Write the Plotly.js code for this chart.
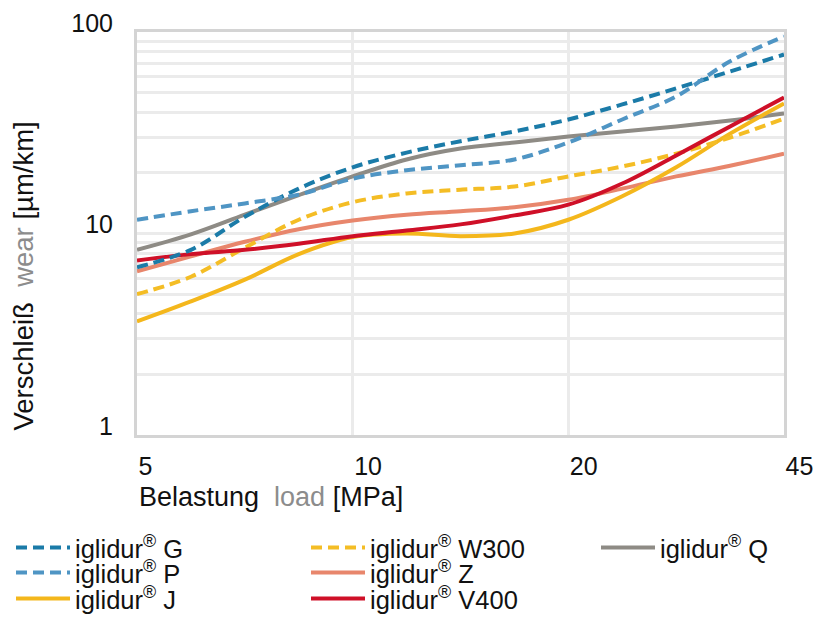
<!DOCTYPE html>
<html><head><meta charset="utf-8">
<script src="https://cdn.plot.ly/plotly-3.0.1.min.js"></script>
<style>html,body{margin:0;padding:0;background:#fff}</style>
</head><body>
<div id="chart" style="width:824px;height:624px"></div>
<script>
// x positions are the index of the load tick (5, 10, 20, 45 MPa are equally spaced in the chart)
const loadTicks = ['5', '10', '20', '45'];
const loadTickPos = [0, 1, 2, 3];
const xPos = [0, 0.25, 0.5, 0.75, 1, 1.25, 1.5, 1.75, 2, 2.25, 2.5, 2.75, 3];

// wear [µm/km]
const wearG    = [6.8, 8.3, 12.1, 16.7, 21.3, 25.2, 28.7, 32.1, 36.8, 43.7, 52.5, 63.7, 77.3];
const wearP    = [11.7, 12.9, 14.1, 15.6, 18.7, 20.6, 21.8, 23.3, 28.3, 36.8, 47.9, 71.5, 95.0];
const wearJ    = [3.66, 4.6, 5.9, 7.9, 9.6, 10.0, 9.7, 10.0, 11.7, 15.3, 21.3, 31.3, 44.2];
const wearW300 = [5.0, 6.1, 8.5, 11.7, 14.3, 15.8, 16.5, 17.1, 19.2, 21.5, 24.9, 29.9, 37.2];
const wearZ    = [6.5, 7.7, 9.1, 10.5, 11.6, 12.4, 12.9, 13.5, 14.7, 16.7, 19.2, 21.7, 24.9];
const wearV400 = [7.35, 7.9, 8.3, 8.9, 9.7, 10.35, 11.1, 12.3, 13.9, 17.7, 24.4, 34.0, 47.3];
const wearQ    = [8.3, 9.9, 12.4, 15.5, 19.2, 23.3, 26.4, 28.3, 30.3, 32.1, 34.0, 36.4, 39.4];

const wearTickVals = [1,2,3,4,5,6,7,8,9,10,20,30,40,50,60,70,80,90,100];
const wearTickText = ['1','','','','','','','','','10','','','','','','','','','100'];

const names = {
  G: 'iglidur<sup>®</sup> G', P: 'iglidur<sup>®</sup> P', J: 'iglidur<sup>®</sup> J',
  W300: 'iglidur<sup>®</sup> W300', Z: 'iglidur<sup>®</sup> Z', V400: 'iglidur<sup>®</sup> V400',
  Q: 'iglidur<sup>®</sup> Q'
};

function tr(y, name, color, dash, legend, rank) {
  return {
    type: 'scatter', mode: 'lines', x: xPos, y: y, name: name,
    line: {color: color, width: 4, dash: dash, shape: 'spline', smoothing: 1},
    legend: legend, legendrank: rank, hoverinfo: 'skip'
  };
}

const DASH = '11px,6px';
const data = [
  tr(wearQ, names.Q, '#8e8b85', 'solid', 'legend4', 1),
  tr(wearZ, names.Z, '#e8866c', 'solid', 'legend2', 2),
  tr(wearJ, names.J, '#f4b71c', 'solid', 'legend3', 1),
  tr(wearW300, names.W300, '#f4bd25', DASH, 'legend', 2),
  tr(wearV400, names.V400, '#cf1028', 'solid', 'legend3', 2),
  tr(wearG, names.G, '#1b7ba8', DASH, 'legend', 1),
  tr(wearP, names.P, '#4f95c4', DASH, 'legend2', 1)
];

const L = 137, W = 647, B = 435, H = 403;
const px2x = p => (p - L) / W;
const px2y = p => (B - p) / H;

function leg(xpx, ypx) {
  return {
    orientation: 'h', x: px2x(xpx), xanchor: 'left', y: px2y(ypx), yanchor: 'middle',
    itemwidth: 54, entrywidth: 226, entrywidthmode: 'pixels',
    font: {size: 25.5, color: '#111'}, bgcolor: 'rgba(0,0,0,0)', borderwidth: 0,
    tracegroupgap: 0, traceorder: 'normal'
  };
}

const gridColor = '#ebebeb';
const frameColor = '#d4d4d4';

const layout = {
  width: 824, height: 624,
  margin: {l: L, r: 824 - L - W, t: 32, b: 624 - B, autoexpand: false},
  paper_bgcolor: '#ffffff', plot_bgcolor: '#ffffff',
  font: {family: 'Liberation Sans, Arial, Helvetica, sans-serif', color: '#111', size: 24},
  showlegend: true,
  xaxis: {
    type: 'linear', range: [0, 3], tickmode: 'array', tickvals: loadTickPos, ticktext: loadTicks,
    showgrid: true, gridcolor: gridColor, gridwidth: 3,
    showline: true, mirror: true, linecolor: frameColor, linewidth: 3,
    ticks: '', zeroline: false, ticklabelposition: 'outside right', ticklabelstandoff: 7,
    tickfont: {size: 25, color: '#111'}
  },
  yaxis: {
    type: 'log', range: [0, 2], tickmode: 'array', tickvals: wearTickVals, ticktext: wearTickText,
    showgrid: true, gridcolor: gridColor, gridwidth: 3,
    showline: true, mirror: true, linecolor: frameColor, linewidth: 3,
    ticks: '', zeroline: false, ticklabelshift: -9, ticklabelstandoff: 16,
    tickfont: {size: 25, color: '#111'}
  },
  legend: leg(11, 548),
  legend2: leg(11, 573),
  legend3: leg(11, 599),
  legend4: leg(596, 548),
  annotations: [
    {
      text: 'Verschleiß  <span style="color:#8c8c8c">wear</span> [µm/km]',
      textangle: -90, xref: 'paper', yref: 'paper', x: px2x(23), xanchor: 'center',
      y: px2y(433), yanchor: 'bottom', showarrow: false, font: {size: 27.5, color: '#111'}
    },
    {
      text: 'Belastung  <span style="color:#8c8c8c">load</span> [MPa]',
      xref: 'paper', yref: 'paper', x: 0, xanchor: 'left', y: px2y(497), yanchor: 'middle',
      showarrow: false, font: {size: 27, color: '#111'}
    }
  ]
};

Plotly.newPlot('chart', data, layout, {displayModeBar: false, staticPlot: true});
</script>
</body></html>
